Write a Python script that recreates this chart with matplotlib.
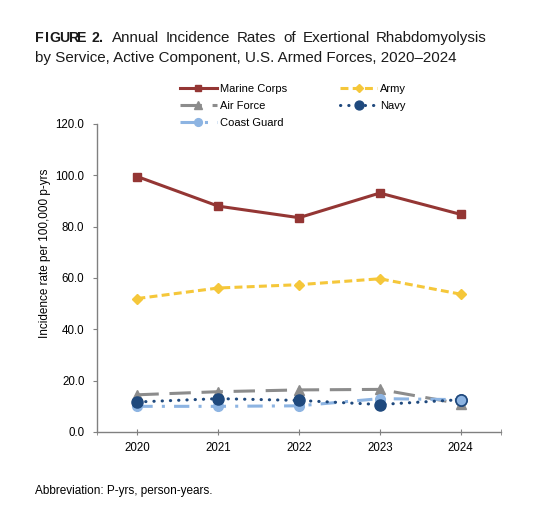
import matplotlib
matplotlib.use("Agg")
import matplotlib.pyplot as plt

plt.rcParams['font.family'] = ['Liberation Sans', 'DejaVu Sans']

years = [2020, 2021, 2022, 2023, 2024]
marine_corps = [99.5, 88.0, 83.5, 93.1, 84.8]
army = [52.0, 56.1, 57.4, 59.7, 53.7]
air_force = [14.5, 15.7, 16.4, 16.6, 11.0]
navy = [11.7, 13.0, 12.3, 10.7, 12.6]
coast_guard = [10.0, 10.0, 10.2, 13.0, 12.6]
yticks = [0, 20, 40, 60, 80, 100, 120]

C_MC = '#943634'
C_ARMY = '#F5C73A'
C_AF = '#8C8C8C'
C_NAVY = '#1F497D'
C_CG = '#8DB4E2'

W, H = 550, 527
fig = plt.figure(figsize=(5.5, 5.27), dpi=100)
ax = fig.add_axes([97 / W, 1 - 432 / H, (501 - 97) / W, (432 - 124) / H])

lw = 2.2
ax.plot(years, coast_guard, color=C_CG, lw=lw, linestyle=(0, (5, 3, 1, 3)),
        marker='o', markersize=7, zorder=3, label='Coast Guard')
ax.plot(years, air_force, color=C_AF, lw=lw, linestyle=(0, (7, 3.5)),
        marker='^', markersize=7, zorder=2, label='Air Force')
ax.plot(years, navy, color=C_NAVY, lw=lw, linestyle=(0, (0.1, 2.6)),
        dash_capstyle='round', marker='o', markersize=8, zorder=4, label='Navy')
ax.plot(years[-1:], navy[-1:], linestyle='none', marker='o', markersize=8,
        markerfacecolor=C_CG, markeredgecolor=C_NAVY, markeredgewidth=1.2, zorder=5)
ax.plot(years, army, color=C_ARMY, lw=lw, linestyle=(0, (2.6, 1.4)),
        marker='D', markersize=5.5, zorder=3, label='Army')
ax.plot(years, marine_corps, color=C_MC, lw=lw, linestyle='-',
        marker='s', markersize=6, zorder=3, label='Marine Corps')

ax.set_xlim(2019.5, 2024.5)
ax.set_ylim(0, 120)
ax.set_yticks(yticks)
ax.set_yticklabels([f"{v:.1f}" for v in yticks])
ax.set_xticks(years)
ax.set_xticks([2019.5, 2024.5], minor=True)
ax.set_xticklabels([str(y) for y in years])

for s in ['top', 'right']:
    ax.spines[s].set_visible(False)
for s in ['left', 'bottom']:
    ax.spines[s].set_color('#808080')
    ax.spines[s].set_linewidth(1.0)
ax.tick_params(axis='y', direction='out', length=3, color='#808080', pad=6,
               labelsize=8.3, labelcolor='black')
ax.tick_params(axis='x', which='both', direction='inout', length=5, color='#808080',
               pad=5, labelsize=8.3, labelcolor='black')

# legend
handles = {h.get_label(): h for h in ax.get_lines()}
order = ['Marine Corps', 'Air Force', 'Coast Guard', 'Army', 'Navy']
leg = ax.legend([handles[k] for k in order], order, ncol=2, frameon=False,
                loc='upper left', bbox_to_anchor=(180 / W, 1 - 84 / H),
                bbox_transform=fig.transFigure, fontsize=8.0, borderpad=0,
                borderaxespad=0, handlelength=3.3, handletextpad=0.3,
                columnspacing=4.8, labelspacing=0.62, numpoints=1,
                markerscale=0.8)

# title
fx = [35, 44.5, 49, 59, 68.5, 77.5, 91, 99]
for ch, x in zip("FIGURE2.", fx):
    fig.text(x / W, 1 - 42 / H, ch, fontsize=10.2, fontweight='bold',
             ha='left', va='baseline', color='#1a1a1a')

# justified first title line between x=112 and x=487
words = "Annual Incidence Rates of Exertional Rhabdomyolysis".split()
renderer = fig.canvas.get_renderer()
txts = [fig.text(0, 1 - 42 / H, w, fontsize=10.9, ha='left', va='baseline',
                 color='#1a1a1a') for w in words]
widths = [t.get_window_extent(renderer).width for t in txts]
gap = (487 - 112 - sum(widths)) / (len(words) - 1)
xcur = 112
for t, wd in zip(txts, widths):
    t.set_x(xcur / W)
    xcur += wd + gap

fig.text(35 / W, 1 - 62 / H, "by Service, Active Component, U.S. Armed Forces, 2020\u20132024",
         fontsize=10.9, ha='left', va='baseline', color='#1a1a1a')

fig.text(45 / W, 1 - 253 / H, "Incidence rate per 100,000 p-yrs", rotation=90,
         fontsize=8.5, ha='center', va='center')
fig.text(35 / W, 1 - 494 / H, "Abbreviation: P-yrs, person-years.", fontsize=8.5,
         ha='left', va='baseline')

fig.savefig("out.png", dpi=100)
